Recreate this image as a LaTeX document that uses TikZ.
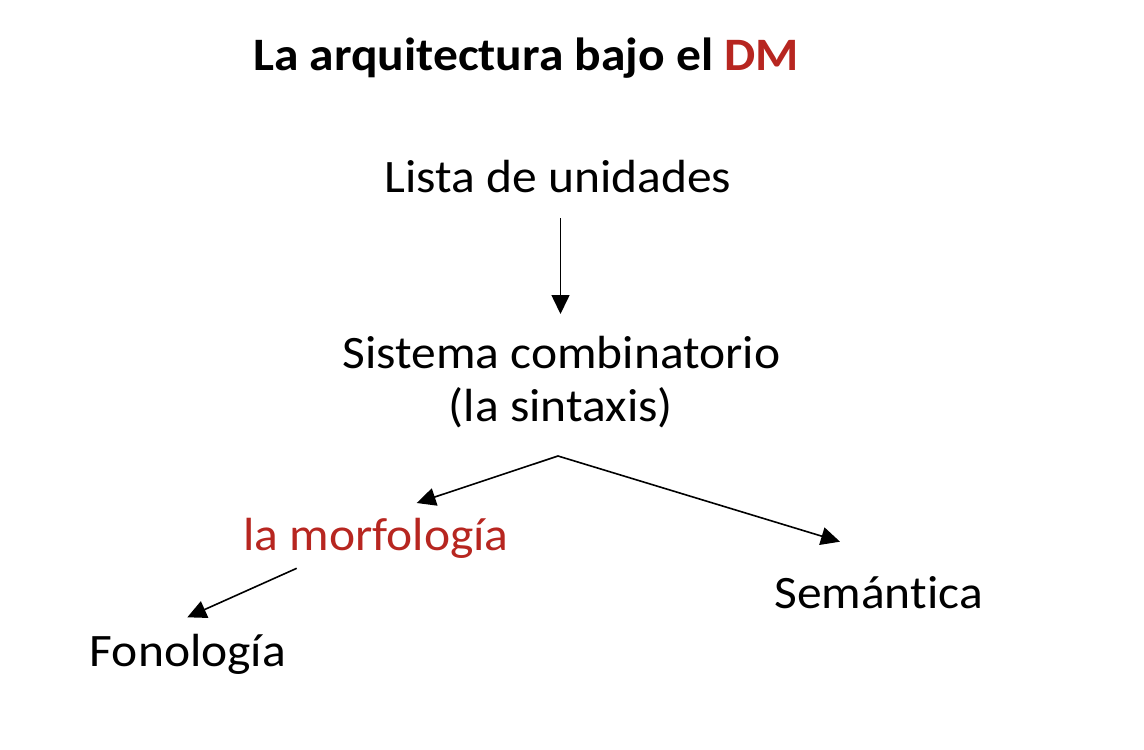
\documentclass[tikz,border=0pt]{standalone}
\usepackage{fontspec}
\setmainfont{Carlito}[FakeStretch=1.065,Ligatures={NoCommon,NoRare}]
\usetikzlibrary{arrows.meta}
\definecolor{dmred}{RGB}{183,38,32}
\tikzset{
  lbl/.style={anchor=base,inner sep=0pt,font=\fontsize{46.5}{53}\selectfont},
  ttl/.style={anchor=base,inner sep=0pt,font=\fontsize{46.5}{53}\selectfont\bfseries},
  conn/.style={line width=1.6pt,-{Triangle[length=19pt,width=18pt]}}
}
\begin{document}
\begin{tikzpicture}[x=1pt,y=-1pt]
\useasboundingbox (0,0) rectangle (1144,750);
\node[ttl] (title) at (526,70.7) {La arquitectura bajo el \textcolor{dmred}{DM}};
\node[lbl] (lista) at (558,192.3) {Lista de unidades};
\node[lbl] (sist) at (561.5,368) {Sistema combinatorio};
\node[lbl] (sint) at (561,421) {(la sintaxis)};
\node[lbl,text=dmred] (morf) at (376,550.7) {la morfología};
\node[lbl] (fono) at (188,666.7) {Fonología};
\node[lbl] (sem) at (878.5,608.3) {Semántica};
\coordinate (a1) at (560.5,218);
\coordinate (a2) at (560.5,314);
\coordinate (b0) at (558,456);
\coordinate (b1) at (416.7,503);
\coordinate (b2) at (840,541.7);
\coordinate (c0) at (296.7,568.3);
\coordinate (c1) at (187.3,617.3);
\draw[conn] (a1) -- (a2);
\draw[conn] (b0) -- (b1);
\draw[conn] (b0) -- (b2);
\draw[conn] (c0) -- (c1);
\end{tikzpicture}
\end{document}
